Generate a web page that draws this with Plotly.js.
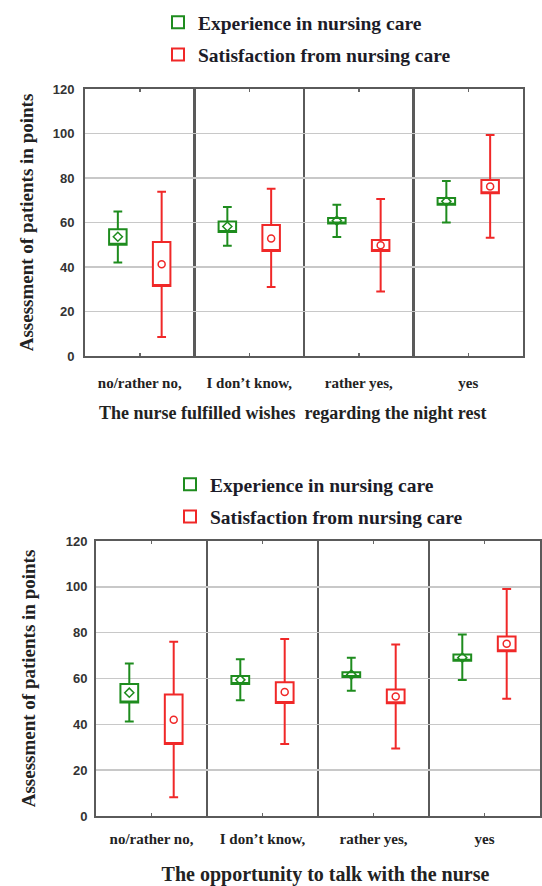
<!DOCTYPE html>
<html>
<head>
<meta charset="utf-8">
<script src="https://cdn.plot.ly/plotly-3.0.1.min.js"></script>
<style>html,body{margin:0;padding:0;background:#fff}#chart{width:542px;height:886px}</style>
</head>
<body>
<div id="chart"></div>
<script>
// ---- data ----
var categories = ['no/rather no,', 'I don\u2019t know,', 'rather yes,', 'yes'];
var seriesNames = ['Experience in nursing care', 'Satisfaction from nursing care'];
var topTitle = 'The nurse fulfilled wishes  regarding the night rest';
var bottomTitle = 'The opportunity to talk with the nurse';
var yTitle = 'Assessment of patients in points';
var yTicks = [0, 20, 40, 60, 80, 100, 120];

// Night rest (top chart)
var expNightLow  = [42.0, 49.5, 53.5, 60.0];
var expNightQ1   = [50.0, 55.7, 59.6, 68.0];
var expNightMean = [53.6, 58.2, 60.8, 69.5];
var expNightQ3   = [57.0, 60.5, 62.0, 71.0];
var expNightHigh = [65.0, 67.0, 68.0, 78.7];

var satNightLow  = [8.5, 31.0, 29.0, 53.2];
var satNightQ1   = [31.5, 47.2, 47.2, 73.1];
var satNightMean = [41.2, 52.8, 49.8, 76.2];
var satNightQ3   = [51.2, 58.9, 52.1, 79.1];
var satNightHigh = [73.8, 75.2, 70.6, 99.3];

// Talk with the nurse (bottom chart)
var expTalkLow  = [41.2, 50.5, 54.7, 59.3];
var expTalkQ1   = [49.5, 57.6, 60.7, 67.8];
var expTalkMean = [53.8, 59.4, 61.7, 69.1];
var expTalkQ3   = [57.6, 61.1, 62.7, 70.5];
var expTalkHigh = [66.5, 68.4, 69.1, 79.2];

var satTalkLow  = [8.2, 31.4, 29.4, 51.2];
var satTalkQ1   = [31.4, 49.3, 49.2, 71.9];
var satTalkMean = [42.0, 54.1, 52.1, 75.2];
var satTalkQ3   = [53.0, 58.4, 55.2, 78.3];
var satTalkHigh = [76.0, 77.2, 74.8, 99.1];

// ---- styles ----
var GREEN = '#1e8c1e', RED = '#f02828';
var serif = 'Liberation Serif, Times New Roman, serif';
var sans = 'Liberation Sans, Arial, sans-serif';
var NB = '\u00A0';
var idx = categories.map(function (c, i) { return i + 1; });
function shift(d) { return idx.map(function (v) { return v + d; }); }

function boxTrace(name, color, fill, low, q1, q3, high, d, xa, ya, leg, grp) {
  return {
    type: 'box', name: name, x: shift(d), q1: q1, median: q1, q3: q3,
    lowerfence: low, upperfence: high, width: 0.16, whiskerwidth: 0.5,
    line: {color: color, width: 2}, fillcolor: fill,
    xaxis: xa, yaxis: ya, legend: leg, legendgroup: grp, hoverinfo: 'skip'
  };
}
function meanTrace(color, symbol, mean, d, xa, ya, leg, grp) {
  return {
    type: 'scatter', mode: 'markers', x: shift(d), y: mean, showlegend: false,
    marker: {symbol: symbol, size: 7, color: color, line: {color: color, width: 1.5}},
    xaxis: xa, yaxis: ya, legend: leg, legendgroup: grp, hoverinfo: 'skip'
  };
}

var data = [
  boxTrace(seriesNames[0], GREEN, '#ffffff', expNightLow, expNightQ1, expNightQ3, expNightHigh, -0.2, 'x', 'y', 'legend', 'a1'),
  boxTrace(seriesNames[1], RED, '#ffffff', satNightLow, satNightQ1, satNightQ3, satNightHigh, 0.2, 'x', 'y', 'legend', 'a2'),
  meanTrace(GREEN, 'diamond-open', expNightMean, -0.2, 'x', 'y', 'legend', 'a1'),
  meanTrace(RED, 'circle-open', satNightMean, 0.2, 'x', 'y', 'legend', 'a2'),
  boxTrace(seriesNames[0], GREEN, '#ffffff', expTalkLow, expTalkQ1, expTalkQ3, expTalkHigh, -0.2, 'x2', 'y2', 'legend2', 'b1'),
  boxTrace(seriesNames[1], RED, '#ffffff', satTalkLow, satTalkQ1, satTalkQ3, satTalkHigh, 0.2, 'x2', 'y2', 'legend2', 'b2'),
  meanTrace(GREEN, 'diamond-open', expTalkMean, -0.2, 'x2', 'y2', 'legend2', 'b1'),
  meanTrace(RED, 'circle-open', satTalkMean, 0.2, 'x2', 'y2', 'legend2', 'b2')
];

function xAxis(domain, anchor, title, labStand, standoff, fs) {
  return {
    domain: domain, anchor: anchor, type: 'linear', range: [0.5, 4.5],
    tickmode: 'array', tickvals: idx, ticktext: categories,
    ticks: 'inside', ticklen: 3, tickwidth: 1.5, tickcolor: '#666', mirror: 'ticks',
    showline: true, linecolor: '#5a5a5a', linewidth: 2,
    showgrid: false, zeroline: false, ticklabelstandoff: labStand,
    tickfont: {family: serif, size: 15, color: '#222', weight: 'bold'},
    minor: {tickmode: 'linear', tick0: 0.5, dtick: 1, showgrid: true, gridcolor: '#5a5a5a', gridwidth: 2.5, ticklen: 0},
    title: {text: '<b>' + title + '</b>', font: {family: serif, size: fs, color: '#222'}, standoff: standoff}
  };
}
function yAxis(domain, anchor, labStand, standoff) {
  return {
    domain: domain, anchor: anchor, range: [0, 120], tickmode: 'array', tickvals: yTicks,
    showline: true, linecolor: '#5a5a5a', linewidth: 2, mirror: true,
    showgrid: true, gridcolor: '#c8c8c8', gridwidth: 1.5, zeroline: false, ticks: '',
    ticklabelstandoff: labStand,
    tickfont: {family: sans, size: 13, color: '#333', weight: 'bold'},
    title: {text: '<b>' + yTitle + '</b>', font: {family: serif, size: 19, color: '#222'}, standoff: standoff}
  };
}

var legendFont = {family: serif, size: 19.5, color: '#1c1c28', weight: 'bold'};
var layout = {
  width: 542, height: 886, margin: {l: 0, r: 0, t: 0, b: 0},
  paper_bgcolor: '#fff', plot_bgcolor: '#fff', showlegend: true,
  xaxis: xAxis([85 / 542, 523 / 542], 'y', topTitle + NB + NB + NB + NB + NB, 12, 16, 18),
  yaxis: yAxis([1 - 356 / 886, 1 - 89 / 886], 'x', 6, 14),
  xaxis2: xAxis([96 / 542, 540 / 542], 'y2', NB + NB + NB + bottomTitle, 8, 29, 20),
  yaxis2: yAxis([1 - 816 / 886, 1 - 541 / 886], 'x2', 4, 25),
  legend: {x: 158 / 542, y: 1 - 3 / 886, xanchor: 'left', yanchor: 'top', traceorder: 'grouped', tracegroupgap: 4,
           bgcolor: 'rgba(0,0,0,0)', font: legendFont, itemwidth: 30},
  legend2: {x: 170 / 542, y: 1 - 465 / 886, xanchor: 'left', yanchor: 'top', traceorder: 'grouped', tracegroupgap: 4,
           bgcolor: 'rgba(0,0,0,0)', font: legendFont, itemwidth: 30}
};

Plotly.newPlot('chart', data, layout, {displayModeBar: false, staticPlot: true});
</script>
</body>
</html>
